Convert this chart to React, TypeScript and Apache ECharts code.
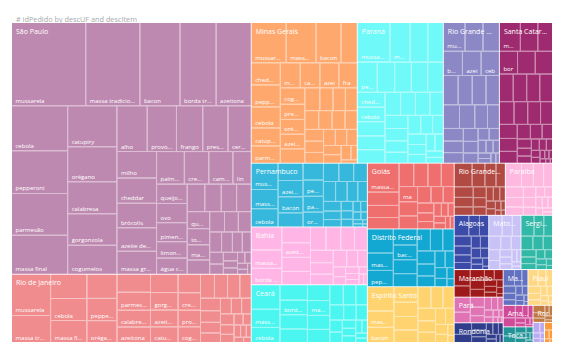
import React, { useEffect, useRef } from 'react';
import * as echarts from 'echarts';

const chartTitle = '# idPedido by descUF and descItem';

const states = [
  'São Paulo', 'Rio de Janeiro', 'Minas Gerais', 'Paraná', 'Rio Grande do Sul', 'Santa Catarina',
  'Pernambuco', 'Bahia', 'Ceará', 'Goiás', 'Distrito Federal', 'Espírito Santo',
  'Rio Grande do Norte', 'Paraíba', 'Alagoas', 'Mato Grosso', 'Sergipe', 'Maranhão', 'Pará',
  'Rondônia', 'Mato Grosso do Sul', 'Piauí', 'Amazonas', 'Tocantins', 'Roraima', 'Amapá', 'Acre',
];

// item names, in São Paulo's order, followed by less frequent items
const spItems = [
  'mussarela', 'massa tradicional', 'bacon', 'borda tradicional', 'azeitona', 'cebola', 'pepperoni',
  'parmesão', 'massa final', 'catupiry', 'orégano', 'calabresa', 'gorgonzola', 'cogumelos', 'alho',
  'provolone', 'frango', 'presunto', 'cerveja', 'milho', 'cheddar', 'brócolis', 'azeite de oliva',
  'massa grossa', 'palmito', 'cream cheese', 'camarão', 'linguiça', 'queijo prato', 'ovo', 'pimentão',
  'limonada', 'água com gás', 'aliche', 'quatro queijos', 'alcaparra', 'pimenta', 'queijo brie',
];
const otherItems = [
  'tomate', 'manjericão', 'rúcula', 'tomate seco', 'atum', 'lombo', 'salame', 'peito de peru',
  'abacaxi', 'chocolate', 'morango', 'banana', 'requeijão', 'refrigerante', 'suco de laranja',
  'vinho tinto', 'ervilha', 'berinjela', 'abobrinha', 'carne seca', 'escarola', 'doce de leite',
  'guaraná', 'champignon', 'azeitona preta', 'borda recheada', 'massa integral', 'molho especial',
];
const rjItems = ['mussarela', 'massa tradicional', 'bacon', 'cebola', 'massa final', 'borda tradicional', 'pepperoni', 'orégano', 'cheddar', 'parmesão', 'calabresa', 'azeitona', 'frango', 'gorgonzola', 'azeite de oliva', 'catupiry', 'milho', 'cream cheese', 'provolone'];
const mgItems = ['mussarela', 'massa tradicional', 'bacon', 'borda tradicional', 'cheddar', 'pepperoni', 'cebola', 'catupiry', 'parmesão', 'massa final', 'calabresa', 'azeitona', 'frango', 'cogumelos', 'presunto', 'orégano', 'azeite de oliva', 'cerveja'];
const prItems = ['mussarela', 'massa tradicional', 'bacon', 'borda tradicional', 'pepperoni', 'parmesão', 'catupiry', 'orégano', 'calabresa', 'cheddar', 'cebola', 'azeitona', 'provolone'];
const peItems = ['mussarela', 'massa tradicional', 'cebola', 'catupiry', 'azeitona', 'bacon', 'massa final'];
const baItems = ['mussarela', 'massa tradicional', 'borda tradicional', 'pepperoni', 'azeitona'];
const ceItems = ['mussarela', 'massa tradicional', 'cebola'];
const goItems = ['massa tradicional', 'azeitona', 'borda tradicional', 'mussarela'];
const dfItems = ['mussarela', 'massa tradicional', 'pepperoni', 'borda tradicional'];
const defaultItems = ['mussarela', 'massa tradicional'];

// number of orders (idPedido) per item, per state
const spValues = [6142, 4482, 3320, 2988, 2905, 2520, 2380, 2330, 2184, 2009, 1715, 1570, 1540, 1421, 1380, 1334, 1196, 1150, 1058, 1040, 1000, 960, 930, 910, 900, 792, 780, 594, 590, 585, 580, 500, 495, 480, 450, 420, 400, 380, 360, 340, 320, 300, 280, 260, 240, 220, 200, 180, 160, 140, 120, 100, 90, 80, 70, 60, 50, 40];
const rjValues = [1600, 1050, 870, 800, 790, 720, 665, 655, 600, 595, 560, 520, 500, 480, 460, 430, 410, 390, 370, 350, 330, 310, 290, 270, 250, 230, 210, 190, 170, 160, 150, 147, 130, 110, 100, 90, 80, 70, 60, 50, 40];
const mgValues = [1400, 1200, 1000, 650, 640, 635, 610, 520, 500, 495, 490, 470, 460, 400, 370, 360, 355, 350, 340, 300, 280, 270, 260, 250, 240, 230, 220, 210, 200, 190, 180, 170, 160, 150, 140, 90, 55];
const prValues = [1290, 790, 700, 610, 600, 520, 500, 490, 470, 410, 400, 390, 380, 370, 360, 340, 330, 310, 300, 280, 260, 250, 240, 220, 200, 190, 180, 160, 150, 140, 110, 100];
const rsValues = [621, 513, 470, 460, 450, 440, 430, 410, 400, 390, 380, 360, 300, 280, 250, 230, 210, 190, 170, 150, 130, 120, 100, 90, 80, 70, 60, 50, 36];
const scValues = [600, 500, 420, 410, 400, 390, 380, 370, 360, 350, 330, 310, 290, 270, 250, 230, 210, 190, 170, 150, 130, 110, 100, 90, 80, 70, 60, 50, 40, 35, 30, 25, 20, 10];
const peValues = [702, 513, 486, 430, 405, 400, 350, 340, 330, 320, 300, 280, 270, 250, 240, 230, 210, 190, 170, 150, 130, 110, 100, 90, 80, 70, 60, 50, 40, 30, 20, 14];
const baValues = [700, 560, 500, 450, 420, 400, 380, 360, 340, 320, 300, 280, 260, 240, 220, 180, 160, 120, 100, 90, 80, 70, 60, 50, 40];
const ceValues = [700, 520, 430, 420, 400, 390, 370, 350, 330, 310, 290, 270, 250, 230, 210, 190, 170, 150, 130, 110, 100, 90, 80, 70, 60, 50];
const goValues = [910, 420, 380, 360, 340, 330, 310, 300, 280, 260, 240, 220, 200, 180, 160, 140, 120, 100, 90, 80, 76, 70, 60, 50];
const dfValues = [620, 450, 420, 380, 350, 330, 310, 290, 270, 250, 230, 210, 190, 170, 150, 130, 100, 80, 58];
const esValues = [640, 430, 400, 370, 340, 320, 300, 280, 260, 240, 220, 200, 180, 160, 140, 120, 100, 70, 46];
const rnValues = [420, 300, 260, 220, 200, 180, 160, 140, 120, 110, 100, 90, 80, 70, 60, 50, 40, 30, 22];
const pbValues = [380, 280, 240, 210, 190, 170, 150, 130, 120, 100, 90, 80, 70, 60, 50, 50, 40, 34];
const alValues = [300, 220, 190, 170, 150, 130, 120, 110, 100, 90, 80, 70, 60, 50, 20];
const mtValues = [280, 210, 180, 160, 140, 130, 120, 100, 90, 80, 70, 60, 50, 40, 30];
const seValues = [270, 200, 180, 160, 140, 125, 110, 100, 90, 80, 70, 60, 50, 40, 25];
const maValues = [260, 180, 150, 130, 110, 100, 90, 80, 70, 60, 50, 40, 24];
const paValues = [240, 170, 140, 120, 100, 90, 80, 70, 60, 50, 40, 30, 28, 20, 10];
const roValues = [200, 140, 110, 95, 85, 75, 65, 55, 45, 35, 30, 25];
const msValues = [185, 120, 100, 90, 80, 70, 60, 50, 45, 40, 25, 15];
const piValues = [170, 130, 110, 90, 80, 70, 60, 50, 40, 35, 25, 15];
const amValues = [150, 110, 90, 70, 60, 50, 40, 30, 20, 18];
const toValues = [110, 80, 65, 55, 45, 40, 30, 22, 17];
const rrValues = [85, 65, 50, 45, 35, 30, 20];
const apValues = [70, 50, 40, 30, 25, 15];
const acValues = [60, 40, 30, 20, 10];

const stateValues = [spValues, rjValues, mgValues, prValues, rsValues, scValues, peValues, baValues, ceValues, goValues, dfValues, esValues, rnValues, pbValues, alValues, mtValues, seValues, maValues, paValues, roValues, msValues, piValues, amValues, toValues, rrValues, apValues, acValues];
const stateLeadItems = [spItems, rjItems, mgItems, prItems, defaultItems, defaultItems, peItems, baItems, ceItems, goItems, dfItems, defaultItems, defaultItems, defaultItems, defaultItems, defaultItems, defaultItems, defaultItems, defaultItems, defaultItems, defaultItems, defaultItems, defaultItems, defaultItems, defaultItems, defaultItems, defaultItems];

// styles
const stateColors = [
  '#BE89B0', '#F08C8E', '#FFA86E', '#6FF9F9', '#8C88C6', '#9E2B6F',
  '#35B8DB', '#FFB6E6', '#4CF6F0', '#EF6F6F', '#12A8D1', '#FFD470',
  '#B24A44', '#FFB8E0', '#3D4BA8', '#C9C2F7', '#32B8A7', '#9E1A1A', '#DF73B4',
  '#2F3D8A', '#6272C0', '#FFD886', '#D04A9A', '#229498', '#C07A42', '#B9AAF2', '#FF9A3A',
];
const FONT = "'Segoe UI', 'Open Sans', sans-serif";

function lighten(hex: string, amt: number) {
  const n = parseInt(hex.slice(1), 16);
  const r = (n >> 16) & 255, g = (n >> 8) & 255, b = n & 255;
  const f = (c: number) => Math.round(c + (255 - c) * amt);
  return `rgb(${f(r)},${f(g)},${f(b)})`;
}

function buildNames(lead: string[], n: number) {
  const out = lead.slice(0, n);
  for (const g of [...spItems, ...otherItems]) {
    if (out.length >= n) break;
    if (!out.includes(g)) out.push(g);
  }
  while (out.length < n) out.push('item ' + (out.length + 1));
  return out;
}

export default function App() {
  const ref = useRef<HTMLDivElement>(null);
  useEffect(() => {
    if (!ref.current) return;
    const chart = echarts.init(ref.current, undefined, { renderer: 'svg' });

    const buildItemData = (hidden: Set<string>) =>
      states.map((s, i) => {
        const vals = stateValues[i];
        const names = buildNames(stateLeadItems[i], vals.length);
        const color = stateColors[i];
        return {
          name: s,
          itemStyle: { color, borderColor: lighten(color, 0.45) },
          children: vals.map((v, j) => {
            const item: any = { name: names[j], value: v, itemStyle: { color } };
            if (hidden.has(s + '|' + names[j])) item.label = { show: false };
            return item;
          }),
        };
      });

    const itemData = buildItemData(new Set());
    const stateData = itemData.map((d) => ({
      name: d.name,
      value: d.children.reduce((a: number, c: any) => a + c.value, 0),
      itemStyle: { color: 'rgba(0,0,0,0)', borderColor: 'rgba(0,0,0,0)', borderWidth: 0 },
    }));

    const box = { left: 12, top: 23, width: 540, height: 319 };
    const common = {
      type: 'treemap',
      ...box,
      roam: false,
      nodeClick: false,
      silent: true,
      sort: 'desc',
      visibleMin: 0,
      drillDownIcon: '',
      breadcrumb: { show: false },
      upperLabel: { show: false },
    };

    const makeOption = (data: any[]) => ({
      animation: false,
      title: {
        text: chartTitle,
        left: 11,
        top: 10,
        textStyle: { fontSize: 7.3, color: '#A8A8A8', fontWeight: 'normal', fontFamily: FONT },
      },
      tooltip: { show: false },
      series: [
        {
          ...common,
          z: 2,
          levels: [
            { itemStyle: { borderWidth: 0, gapWidth: 1, borderColor: '#ffffff' } },
            { itemStyle: { borderWidth: 0, gapWidth: 1 } },
            { itemStyle: { borderWidth: 0, gapWidth: 0 } },
          ],
          label: {
            show: true,
            position: 'insideBottomLeft',
            distance: 0,
            fontSize: 6,
            lineHeight: 8,
            color: '#ffffff',
            fontFamily: FONT,
            padding: [5, 2, 0.5, 3.5],
            overflow: 'truncate',
            ellipsis: '...',
          },
          data,
        },
        {
          ...common,
          z: 10,
          levels: [
            { itemStyle: { borderWidth: 0, gapWidth: 1, borderColor: 'rgba(0,0,0,0)', color: 'rgba(0,0,0,0)' } },
          ],
          label: {
            show: true,
            position: 'insideTopLeft',
            distance: 0,
            fontSize: 7,
            lineHeight: 9,
            color: '#ffffff',
            fontFamily: FONT,
            padding: [3.5, 1.5, 0, 4],
            overflow: 'truncate',
            ellipsis: '...',
          },
          data: stateData,
        },
      ],
    });

    chart.setOption(makeOption(itemData));

    // second pass: hide item labels in cells too small for them, or under the state header
    try {
      const seriesModel = (chart as any).getModel().getSeriesByIndex(0);
      const tree = seriesModel.getData().tree;
      const hidden = new Set<string>();
      tree.root.children.forEach((stateNode: any) => {
        const stateLayout = stateNode.getLayout();
        stateNode.children.forEach((itemNode: any) => {
          const l = itemNode.getLayout();
          if (!l) return;
          const tooSmall = l.width < 17 || l.height < 13.5;
          const underHeader = l.y < 3 && l.height < 24 && stateLayout && stateLayout.height > 0;
          if (tooSmall || underHeader) hidden.add(stateNode.name + '|' + itemNode.name);
        });
      });
      chart.setOption(makeOption(buildItemData(hidden)));
    } catch (e) {
      // keep first pass
    }

    return () => chart.dispose();
  }, []);

  return (
    <div style={{ position: 'fixed', left: 0, top: 0, width: 567, height: 357, background: '#ffffff' }}>
      <div ref={ref} style={{ width: 567, height: 357 }} />
    </div>
  );
}
